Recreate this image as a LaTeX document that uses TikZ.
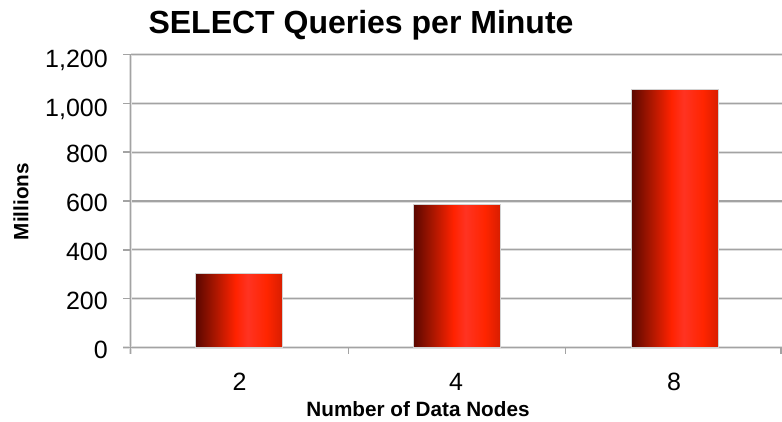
\documentclass[tikz,border=0pt]{standalone}
\usepackage{fontspec}
\setmainfont{Liberation Sans}
\definecolor{gridc}{HTML}{A3A3A3}
\definecolor{gridl}{HTML}{DEDEDE}
\definecolor{bza}{HTML}{5A0700}
\definecolor{bzb}{HTML}{A81600}
\definecolor{bzc}{HTML}{FF2200}
\definecolor{bzd}{HTML}{FF3322}
\definecolor{bze}{HTML}{FF2500}
\definecolor{bzf}{HTML}{D81E00}
\pgfdeclarehorizontalshading{barshade}{100bp}{color(0bp)=(bza); color(25bp)=(bza); color(36bp)=(bzb); color(48bp)=(bzc); color(55bp)=(bzd); color(66bp)=(bze); color(75bp)=(bzf); color(100bp)=(bzf)}
\tikzset{
  gridline/.style={draw=gridc, line width=1.3pt},
  gridhalo/.style={draw=gridl, line width=3pt},
  axisline/.style={draw=gridc, line width=1.5pt},
  bar/.style={shading=barshade, draw=gray!35, line width=0.8pt},
  ticklab/.style={font=\fontsize{25}{30}\selectfont, inner sep=0pt, anchor=base east},
  catlab/.style={font=\fontsize{25}{30}\selectfont, inner sep=0pt, anchor=base},
  titlelab/.style={font=\fontsize{32}{38}\selectfont\bfseries, inner sep=0pt, anchor=base},
  axlab/.style={font=\fontsize{20.7}{25}\selectfont\bfseries, inner sep=0pt, anchor=base},
}
\begin{document}
\begin{tikzpicture}[x=1pt, y=-1pt]
\useasboundingbox (0,0) rectangle (782,421);
% gridlines
\foreach \k in {1,...,6} {
  \pgfmathsetmacro{\gy}{347.5-\k*48.833}
  \path[gridhalo] (131,\gy) -- (782,\gy);
  \path[gridline] (131,\gy) -- (782,\gy);
}
% axes
\coordinate (o) at (130.5,347.5);
\coordinate (ytop) at (130.5,54.5);
\coordinate (xend) at (782,347.5);
\path[gridhalo] (ytop) -- (130.5,354) (123,347.5) -- (xend);
\path[axisline] (ytop) -- (130.5,354);
\path[axisline] (123,347.5) -- (xend);
\foreach \k in {0,...,6} {
  \pgfmathsetmacro{\gy}{347.5-\k*48.833}
  \path[axisline] (123,\gy) -- (130.5,\gy);
}
\foreach \tx in {348.3,565.7,781} {
  \path[axisline] (\tx,347.5) -- (\tx,354);
}
% bars
\path[bar] (195.7,347.5) rectangle (282.3,273.3);
\path[bar] (413.3,347.5) rectangle (500.3,204.3);
\path[bar] (631,347.5) rectangle (718.7,89.3);
% tick labels
\node[ticklab] (t0) at (108,358.2) {0};
\node[ticklab] (t1) at (108,309.4) {200};
\node[ticklab] (t2) at (108,260.5) {400};
\node[ticklab] (t3) at (108,211.7) {600};
\node[ticklab] (t4) at (108,162.9) {800};
\node[ticklab] (t5) at (108,116.0) {1,000};
\node[ticklab] (t6) at (108,67.0) {1,200};
% category labels
\node[catlab] (c1) at (239.5,390) {2};
\node[catlab] (c2) at (456,390) {4};
\node[catlab] (c3) at (674,390) {8};
% titles
\node[titlelab] (title) at (361,33) {SELECT Queries per Minute};
\node[axlab] (xlab) at (418,416) {Number of Data Nodes};
\node[font=\fontsize{20.7}{25}\selectfont\bfseries, inner sep=0pt, rotate=90] (ylab) at (21,201.5) {Millions};
\end{tikzpicture}
\end{document}
